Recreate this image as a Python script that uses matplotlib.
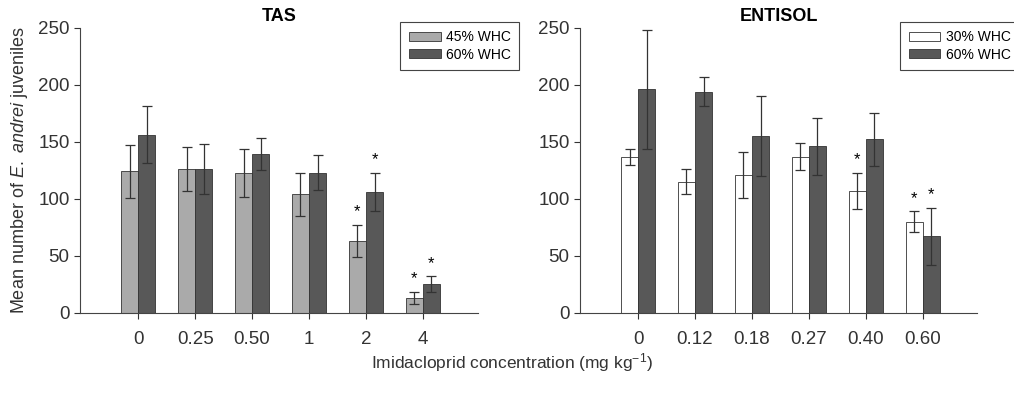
import matplotlib.pyplot as plt
import numpy as np

plt.rcParams['font.family'] = ['Liberation Sans', 'DejaVu Sans']
plt.rcParams['mathtext.fontset'] = 'custom'
plt.rcParams['mathtext.it'] = 'Liberation Sans:italic'
plt.rcParams['mathtext.rm'] = 'Liberation Sans'

# TAS soil
tas_labels = ['0', '0.25', '0.50', '1', '2', '4']
tas_45 = [124, 126, 123, 104, 63, 13]
tas_45_err = [23, 19, 21, 19, 14, 5]
tas_60 = [156, 126, 139, 123, 106, 25]
tas_60_err = [25, 22, 14, 15, 17, 7]
tas_45_sig = [False, False, False, False, True, True]
tas_60_sig = [False, False, False, False, True, True]

# ENTISOL soil
ent_labels = ['0', '0.12', '0.18', '0.27', '0.40', '0.60']
ent_30 = [137, 115, 121, 137, 107, 80]
ent_30_err = [7, 11, 20, 12, 16, 9]
ent_60 = [196, 194, 155, 146, 152, 67]
ent_60_err = [52, 13, 35, 25, 23, 25]
ent_30_sig = [False, False, False, False, True, True]
ent_60_sig = [False, False, False, False, False, True]

fig = plt.figure(figsize=(10.14, 3.96), dpi=100)
ax1 = fig.add_axes([0.079, 0.21, 0.392, 0.72])
ax2 = fig.add_axes([0.572, 0.21, 0.392, 0.72])

w = 0.3


def panel(ax, labels, a, a_err, b, b_err, a_sig, b_sig, a_col, a_lab, b_lab, title):
    x = np.arange(len(labels))
    ax.bar(x - w / 2, a, w, color=a_col, edgecolor='#333333', lw=0.6, label=a_lab)
    ax.bar(x + w / 2, b, w, color='#585858', edgecolor='#333333', lw=0.6, label=b_lab)
    ax.errorbar(x - w / 2, a, yerr=a_err, fmt='none', ecolor='#333333', elinewidth=0.9,
                capsize=3.5, capthick=0.9)
    ax.errorbar(x + w / 2, b, yerr=b_err, fmt='none', ecolor='#333333', elinewidth=0.9,
                capsize=3.5, capthick=0.9)
    for i in range(len(labels)):
        if a_sig[i]:
            ax.text(x[i] - w / 2, a[i] + a_err[i] + 5, '*', ha='center', va='bottom', fontsize=12)
        if b_sig[i]:
            ax.text(x[i] + w / 2, b[i] + b_err[i] + 5, '*', ha='center', va='bottom', fontsize=12)
    ax.set_xlim(-1.02, 5.96)
    ax.set_ylim(0, 250)
    ax.set_yticks([0, 50, 100, 150, 200, 250])
    ax.set_xticks(x)
    ax.set_xticklabels(labels)
    ax.tick_params(axis='both', labelsize=13.5, direction='out', length=4, width=0.8, colors='#333333')
    ax.tick_params(axis='x', pad=9)
    ax.spines['top'].set_visible(False)
    ax.spines['right'].set_visible(False)
    for s in ['left', 'bottom']:
        ax.spines[s].set_color('#444444')
        ax.spines[s].set_linewidth(0.8)
    ax.set_title(title, fontsize=13, fontweight='bold', pad=5)
    leg = ax.legend(loc='upper left', bbox_to_anchor=(0.795, 1.035), fontsize=10, fancybox=False,
                    edgecolor='#444444', framealpha=1, handlelength=2.3, handleheight=0.6,
                    borderpad=0.6, labelspacing=0.25, handletextpad=0.4, borderaxespad=0.3)
    leg.get_frame().set_linewidth(0.8)


panel(ax1, tas_labels, tas_45, tas_45_err, tas_60, tas_60_err, tas_45_sig, tas_60_sig,
      '#aaaaaa', '45% WHC', '60% WHC', 'TAS')
panel(ax2, ent_labels, ent_30, ent_30_err, ent_60, ent_60_err, ent_30_sig, ent_60_sig,
      'white', '30% WHC', '60% WHC', 'ENTISOL')

ax1.set_ylabel('Mean number of $\\mathit{E.\\ andrei}$ juveniles', fontsize=13, color='#333333',
               labelpad=6)
fig.text(0.505, 0.07, 'Imidacloprid concentration (mg kg$^{-1}$)', ha='center', fontsize=12.5,
         color='#333333')

fig.savefig('out.png', dpi=100)
